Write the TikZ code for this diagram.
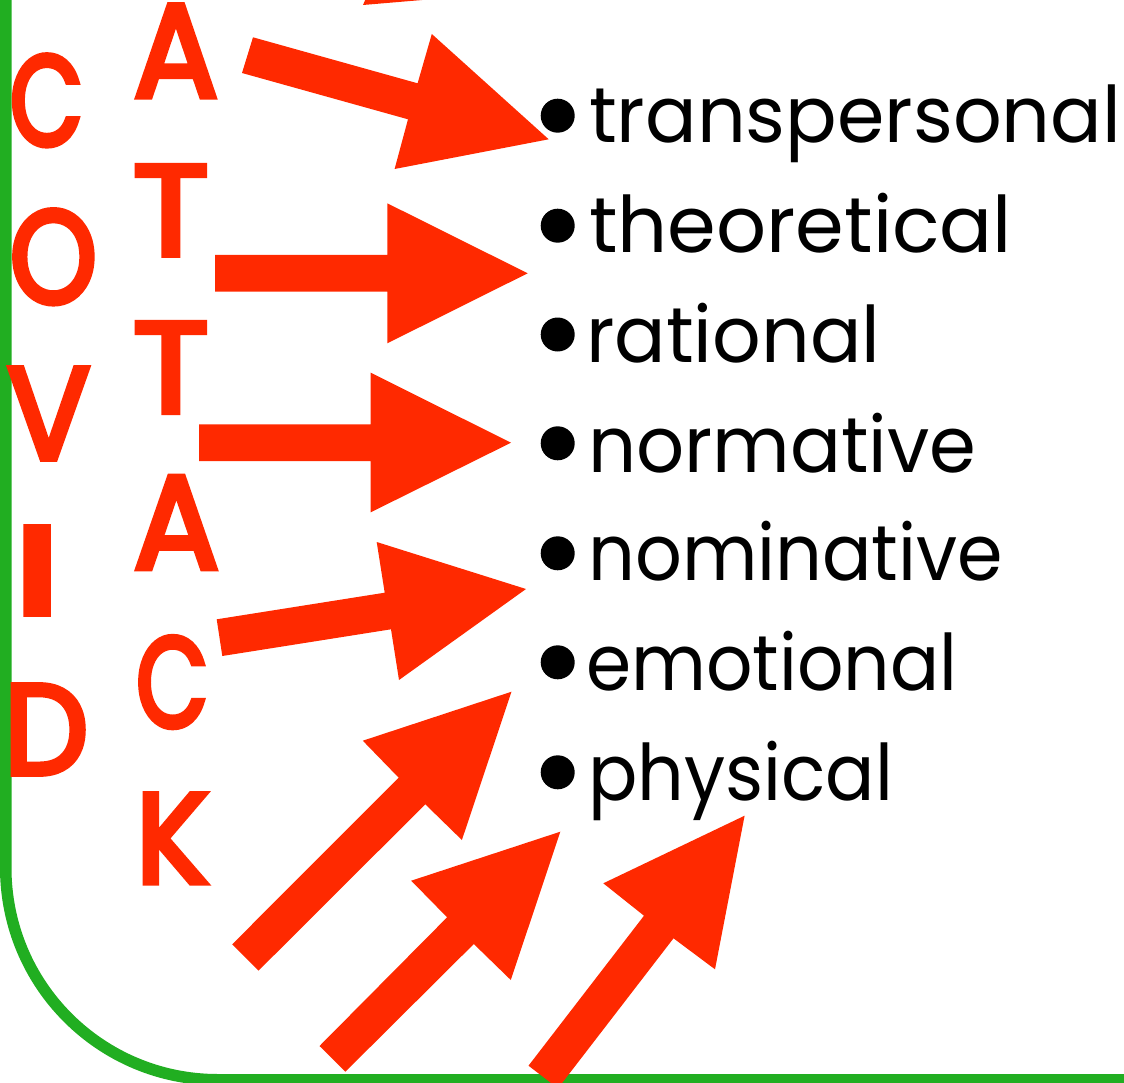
\documentclass[tikz,border=0pt]{standalone}
\usepackage{fontspec}
\usepackage{graphicx}
\newfontfamily\wordfont{Poppins}
\newfontfamily\letterfont[FakeBold=4.5]{Poppins}
\definecolor{redc}{RGB}{255,41,0}
\definecolor{greenc}{RGB}{33,174,33}
\tikzset{
  word/.style={inner sep=0pt, anchor=base west, text=black, font={\wordfont\fontsize{78pt}{90pt}\selectfont}},
  redl/.style={inner sep=0pt, anchor=base west, text=redc, font={\letterfont\fontsize{120pt}{130pt}\selectfont}},
  bul/.style={circle, fill=black, inner sep=0pt, minimum size=34pt},
  blockarrow/.style={fill=redc},
  frame/.style={draw=greenc, line width=11.5pt, rounded corners=212pt}
}
\begin{document}
\begin{tikzpicture}[x=1pt,y=-1pt]
\useasboundingbox (0,0) rectangle (1124,1083);
\clip (0,0) rectangle (1124,1083);
\fill[white] (0,0) rectangle (1124,1083);
% green frame
\draw[frame] (5.75,-20) -- (5.75,1079.75) -- (1160,1079.75);
% COVID letters
\node[redl] (lc) at (9.7,145) {\resizebox{73pt}{90pt}{C}};
\node[redl] (lo) at (9.7,302.7) {\resizebox{87pt}{92.7pt}{O}};
\node[redl] (lv) at (7,459) {\resizebox{83pt}{91pt}{V}};
\node[redl] (li) at (12,614) {\resizebox{50pt}{87pt}{I}};
\node[redl] (ld) at (4,774) {\resizebox{84pt}{89pt}{D}};
% ATTACK letters
\node[redl] (la1) at (133.7,96.7) {\resizebox{84pt}{91.7pt}{A}};
\node[redl] (lt1) at (132.7,255) {\resizebox{76pt}{89.3pt}{T}};
\node[redl] (lt2) at (132.7,412.3) {\resizebox{76pt}{89.6pt}{T}};
\node[redl] (la2) at (133.7,568.3) {\resizebox{85pt}{91.6pt}{A}};
\node[redl] (lc2) at (136,726.7) {\resizebox{72pt}{90pt}{C}};
\node[redl] (lk) at (136,882.7) {\resizebox{72pt}{88.7pt}{K}};
% bullets
\node[bul] (b1) at (557.7,115.7) {};
\node[bul] (b2) at (557.7,225.7) {};
\node[bul] (b3) at (557.7,334.5) {};
\node[bul] (b4) at (557.7,443.3) {};
\node[bul] (b5) at (557.7,553.3) {};
\node[bul] (b6) at (557.7,662.3) {};
\node[bul] (b7) at (557.7,772.3) {};
% words
\node[word] (w1) at (589,143) {\resizebox{532pt}{\height}{transpersonal}};
\node[word] (w2) at (589,253) {\resizebox{423pt}{\height}{theoretical}};
\node[word] (w3) at (586,362) {\resizebox{294pt}{\height}{rational}};
\node[word] (w4) at (588,472) {\resizebox{388pt}{\height}{normative}};
\node[word] (w5) at (588,580) {\resizebox{415pt}{\height}{nominative}};
\node[word] (w6) at (586,690) {\resizebox{371pt}{\height}{emotional}};
\node[word] (w7) at (588,800) {\resizebox{305pt}{\height}{physical}};
% block arrows
\fill[blockarrow] (363,5) -- (366,-2) -- (446,-2) -- cycle;
\fill[blockarrow] (253,37.3) -- (417.6,83.3) -- (431.8,34) -- (548.7,139.3) -- (394.6,169) -- (408,119.3) -- (242,73) -- cycle;
\fill[blockarrow] (215,255) -- (387.3,255) -- (387.3,203.3) -- (527.7,273.3) -- (387.3,343.3) -- (387.3,291.7) -- (215,291.7) -- cycle;
\fill[blockarrow] (199,424.3) -- (370.7,424.3) -- (370.7,372.7) -- (511,442.7) -- (370.7,512.3) -- (370.7,461) -- (199,461) -- cycle;
\fill[blockarrow] (216.7,619.3) -- (384.7,592.7) -- (376.7,542) -- (526,589) -- (399,680) -- (391,629.3) -- (222.3,656) -- cycle;
\fill[blockarrow] (232.2,944.3) -- (398.7,777.7) -- (362.8,740.7) -- (511.5,691.7) -- (461.9,840) -- (425.3,804.3) -- (258.5,970.7) -- cycle;
\fill[blockarrow] (319.5,1046) -- (447.1,917.3) -- (411.2,880.7) -- (560.3,831.7) -- (510.8,980) -- (473.8,944) -- (345.4,1071.7) -- cycle;
\fill[blockarrow] (528.5,1065.7) -- (644,915.7) -- (603.3,883.3) -- (744.6,815.7) -- (715,969.3) -- (673.5,938.3) -- (558,1088.3) -- cycle;
\end{tikzpicture}
\end{document}
